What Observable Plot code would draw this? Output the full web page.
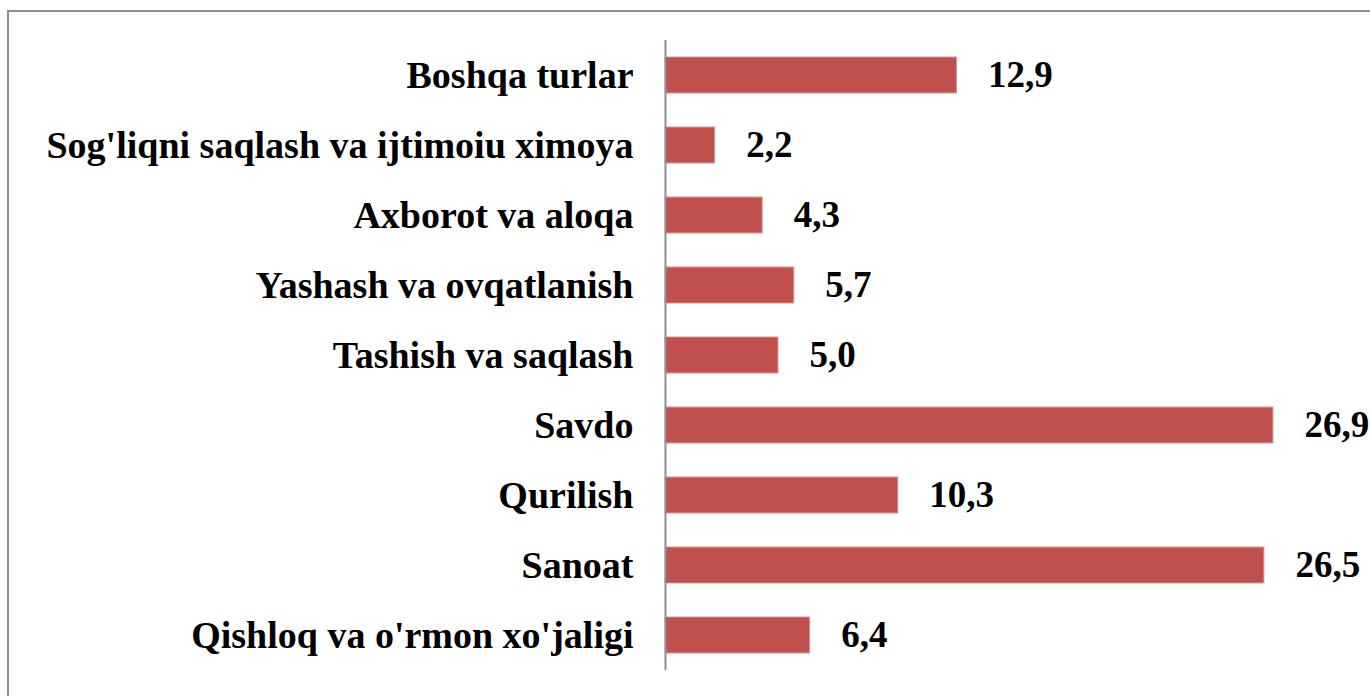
<!DOCTYPE html>
<html>
<head>
<meta charset="utf-8">
<script src="https://cdn.jsdelivr.net/npm/d3@7"></script>
<script src="https://cdn.jsdelivr.net/npm/@observablehq/plot@0.6"></script>
<style>
  html, body { margin: 0; padding: 0; background: #fff; overflow: hidden; width: 1370px; height: 696px; }
  #frame { position: absolute; left: 7px; top: 10px; width: 1400px; height: 800px; border: 2px solid #8e8e8e; box-sizing: border-box; }
  #chart { position: absolute; left: 0; top: 0; }
</style>
</head>
<body>
<div id="frame"></div>
<div id="chart"></div>
<script>
const categories = [
  "Boshqa turlar",
  "Sog'liqni saqlash va ijtimoiu ximoya",
  "Axborot va aloqa",
  "Yashash va ovqatlanish",
  "Tashish va saqlash",
  "Savdo",
  "Qurilish",
  "Sanoat",
  "Qishloq va o'rmon xo'jaligi"
];
const values = [12.9, 2.2, 4.3, 5.7, 5.0, 26.9, 10.3, 26.5, 6.4];

const data = categories.map((c, i) => ({category: c, value: values[i]}));
const fmt = v => v.toFixed(1).replace(".", ",");
const font = "'Times New Roman', 'Liberation Serif', serif";

const chart = Plot.plot({
  width: 1370,
  height: 696,
  marginLeft: 665,
  marginRight: 27,
  marginTop: 40,
  marginBottom: 26,
  style: {fontFamily: font, background: "transparent"},
  x: {domain: [0, 30], axis: null},
  y: {domain: categories, paddingInner: 0.49, paddingOuter: 0.245, label: null, axis: null},
  marks: [
    Plot.axisY({tickSize: 0, tickPadding: 32, fontSize: 38, fontWeight: "bold", fontFamily: font, fill: "#000", label: null}),
    Plot.barX(data, {x: "value", y: "category", fill: "#C0504D", stroke: "#d99a98", strokeWidth: 1}),
    Plot.text(data, {x: "value", y: "category", text: d => fmt(d.value), textAnchor: "start", dx: 31, fontSize: 37, fontWeight: "bold", fontFamily: font, fill: "#000"}),
    Plot.ruleX([0], {stroke: "#8e8e8e", strokeWidth: 2})
  ]
});
document.getElementById("chart").appendChild(chart);
</script>
</body>
</html>
